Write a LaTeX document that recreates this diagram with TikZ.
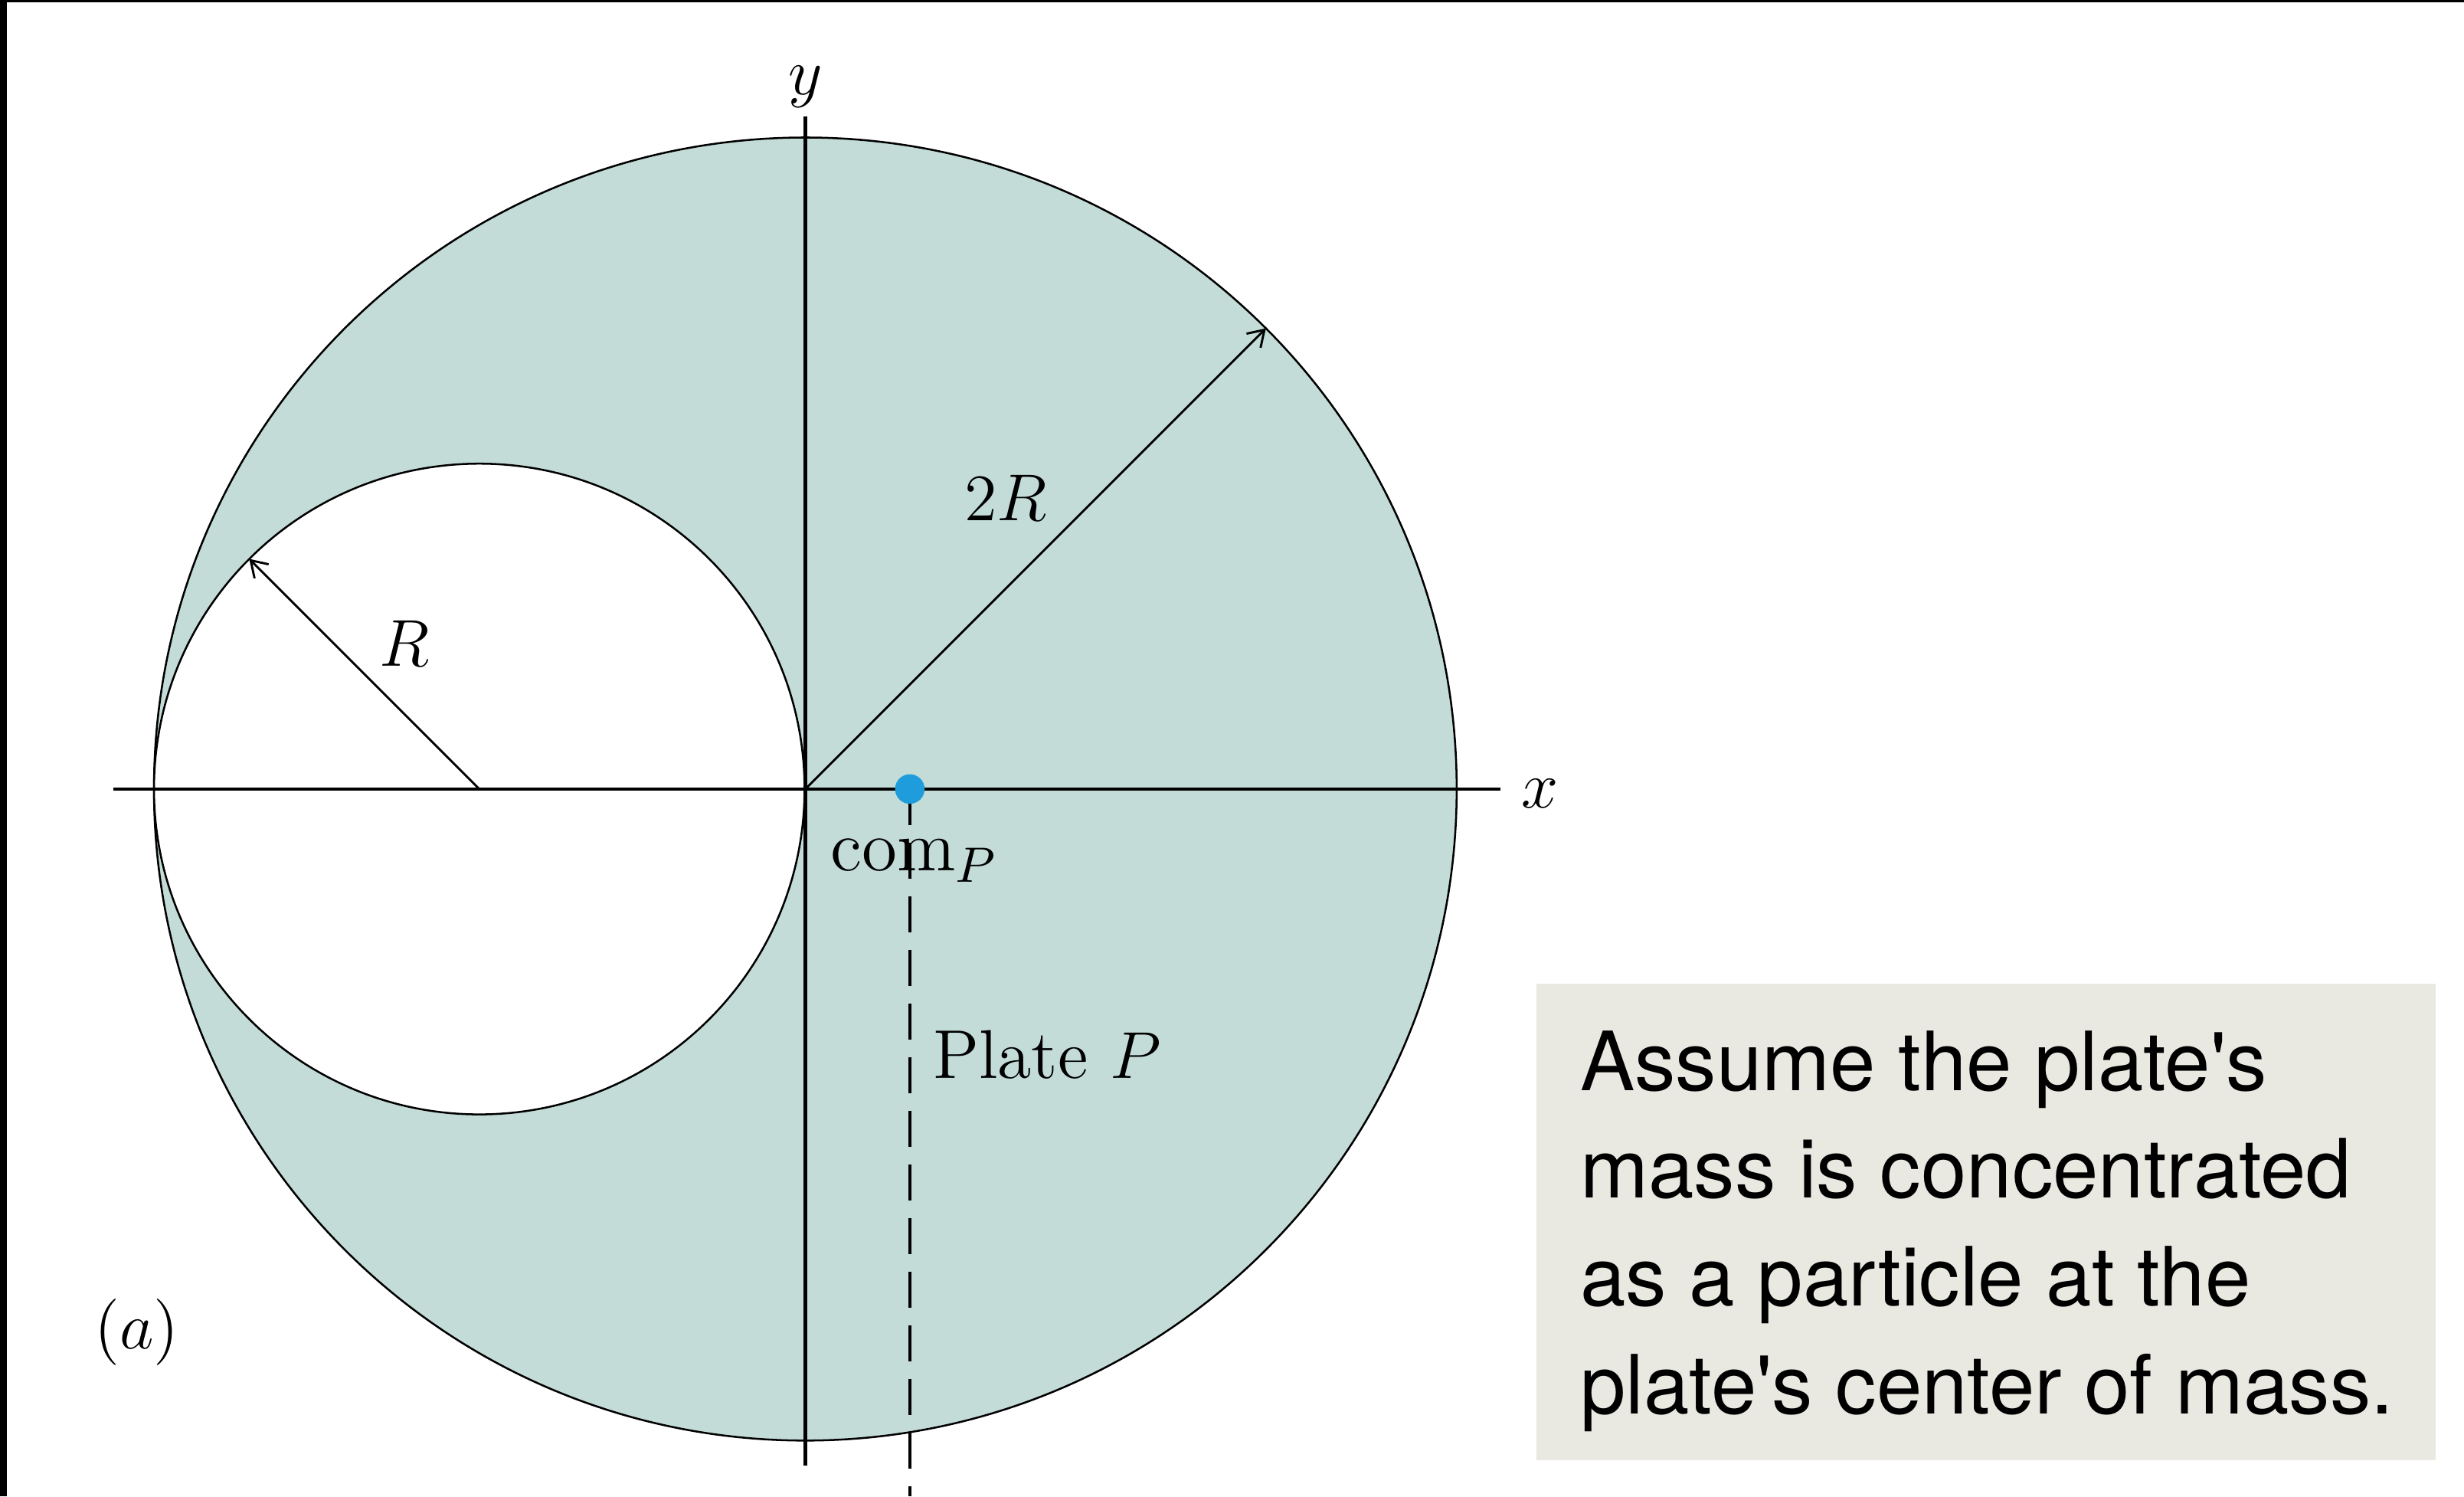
\documentclass[tikz,border=0pt]{standalone}
\usepackage{fontspec}
\usepackage{tikz}
\usetikzlibrary{arrows.meta, positioning}
\newfontfamily\notefont{TeX Gyre Heros}
\definecolor{plateGreen}{RGB}{195,220,215}
\definecolor{noteGray}{RGB}{233,233,225}
\definecolor{comBlue}{RGB}{30,156,220}

\begin{document}
\begin{tikzpicture}[
    x=0.01cm, y=0.01cm,
    font=\fontsize{13}{16}\selectfont,
    axis/.style={line width=0.6pt, draw=black},
    rim/.style={line width=0.35pt, draw=black},
    radiusarrow/.style={line width=0.4pt, -{Straight Barb[length=2.8pt, width=3.6pt]}},
    dropline/.style={line width=0.55pt, dash pattern=on 6.5pt off 3.2pt},
    notebox/.style={fill=noteGray, inner sep=0pt, minimum width=5.72cm, minimum height=3.03cm},
    lbl/.style={inner sep=0pt}
  ]
    \useasboundingbox (-512.5,-450) rectangle (1055.5,502);
    \fill[black] (-512.5,-450) rectangle (-508.2,502);
    \fill[black] (-512.5,500.5) rectangle (1055.5,502);

    % plate with the hole cut out
    \coordinate (O) at (0,0);
    \coordinate (C) at (-207.5,0);
    \filldraw[rim, fill=plateGreen] (O) circle[radius=414.5];
    \filldraw[rim, fill=white] (C) circle[radius=207];

    % axes
    \coordinate (xL) at (-440.5,0);
    \coordinate (xR) at (442.5,0);
    \coordinate (yT) at (0,428);
    \coordinate (yB) at (0,-430.6);
    \draw[axis] (xL) -- (xR);
    \draw[axis] (yT) -- (yB);
    \node[lbl] (xlbl) at (467.5,-3) {$x$};
    \node[lbl, anchor=base] (ylbl) at (0,442) {$y$};

    % radii
    \coordinate (bigrim) at (45:414.5);
    \coordinate (smallrim) at (-353.9,146.4);
    \draw[radiusarrow] (O) -- (bigrim);
    \draw[radiusarrow] (C) -- (smallrim);
    \node[lbl, anchor=base] (twoR) at (127.5,171) {$2R$};
    \node[lbl, anchor=base] (oneR) at (-255,78) {$R$};

    % center of mass
    \coordinate (com) at (66.5,0);
    \coordinate (dropend) at (66.5,-450);
    \draw[dropline] (com) -- (dropend);
    \fill[comBlue] (com) circle[radius=9.4];
    \node[lbl, anchor=base west] (comlbl) at (15.5,-52) {$\mathrm{com}_P$};
    \node[lbl, anchor=base west, font=\fontsize{12.5}{15}\selectfont] (platelbl) at (80.5,-184) {Plate $P$};
    \node[lbl, anchor=base] (parta) at (-425.5,-356) {$(a)$};

    % note box
    \node[notebox, anchor=north west] (note) at (464.5,-123) {};
    \node[lbl, anchor=north west, align=left, font=\notefont\fontsize{14.8}{19.5}\selectfont]
      (notetext) at ([xshift=0.28cm, yshift=-0.30cm]note.north west)
      {Assume the plate's\\mass is concentrated\\as a particle at the\\plate's center of mass.};
\end{tikzpicture}
\end{document}
